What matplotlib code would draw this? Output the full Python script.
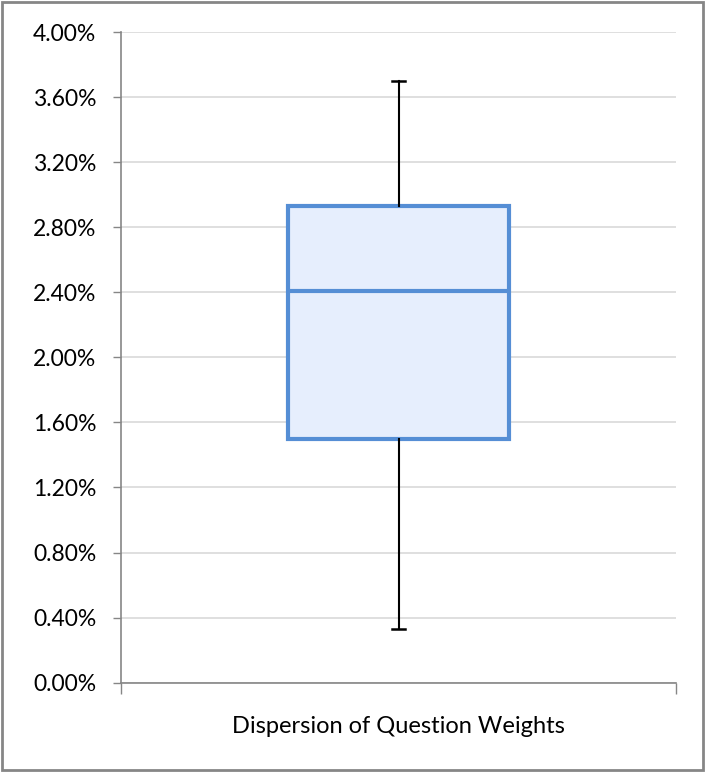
"""
Box plot: dispersion of question weights (Excel-style look)
"""
import matplotlib
matplotlib.use("Agg")
import matplotlib.pyplot as plt
from matplotlib.patches import Rectangle
from matplotlib.ticker import FuncFormatter, MultipleLocator

plt.rcParams['font.family'] = ['Lato', 'DejaVu Sans']

# 数据（单位：%）
categories = ["Dispersion of Question Weights"]
whisker_low = [0.33]
q1 = [1.50]
median = [2.41]
q3 = [2.93]
whisker_high = [3.70]

BLUE = "#558ed5"
FILL = "#e6eefd"
AXIS = "#868686"
GRID = "#d9d9d9"


def main():
    fig = plt.figure(figsize=(7.05, 7.72), dpi=100)
    ax = fig.add_axes([0.1723, 0.1157, 0.7862, 0.8428])

    stats = []
    for i, name in enumerate(categories):
        stats.append({
            "label": name,
            "whislo": whisker_low[i],
            "q1": q1[i],
            "med": median[i],
            "q3": q3[i],
            "whishi": whisker_high[i],
            "fliers": [],
        })
    positions = list(range(len(categories)))
    ax.bxp(stats, positions=positions, widths=0.4, capwidths=0.024,
           patch_artist=True, showfliers=False, zorder=3,
           boxprops=dict(facecolor=FILL, edgecolor=BLUE, linewidth=3),
           medianprops=dict(color=BLUE, linewidth=3),
           whiskerprops=dict(color="black", linewidth=1.5),
           capprops=dict(color="black", linewidth=1.8))

    # 坐标轴
    ax.set_xlim(-0.5, len(categories) - 0.5)
    ax.set_ylim(0, 4.0)
    ax.yaxis.set_major_locator(MultipleLocator(0.4))
    ax.yaxis.set_major_formatter(FuncFormatter(lambda v, _: f"{v:.2f}%"))
    ax.grid(axis="y", color=GRID, linewidth=1.2, zorder=0)
    ax.set_axisbelow(True)

    ax.set_xticks(positions)
    ax.set_xticklabels(categories)
    ax.tick_params(axis="x", length=0, pad=24, labelsize=17)
    ax.set_xticks([-0.5, len(categories) - 0.5], minor=True)
    ax.tick_params(axis="x", which="minor", length=8, color=AXIS, width=1)
    ax.tick_params(axis="y", length=6, color=AXIS, width=1, labelsize=16.5, pad=12)

    for side in ("top", "right"):
        ax.spines[side].set_visible(False)
    for side in ("left", "bottom"):
        ax.spines[side].set_color(AXIS)
        ax.spines[side].set_linewidth(1.2)

    # 外框
    fig.patches.append(Rectangle((0.003, 0.003), 0.994, 0.994, transform=fig.transFigure,
                                 fill=False, edgecolor=AXIS, linewidth=2))

    fig.savefig("out.png", dpi=100)


if __name__ == "__main__":
    main()
